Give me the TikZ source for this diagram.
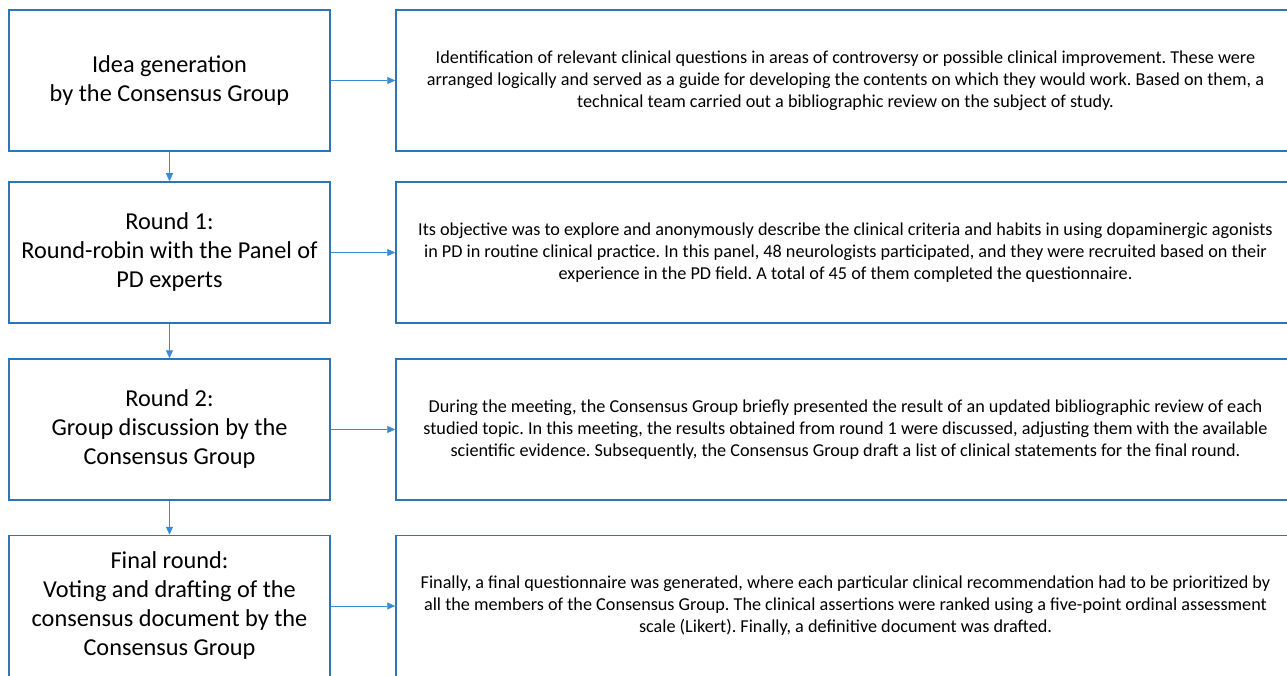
\documentclass[tikz,border=0pt]{standalone}
\usepackage{fontspec}
\setmainfont{Carlito}
\usetikzlibrary{arrows.meta}
\definecolor{boxblue}{RGB}{46,117,182}
\definecolor{arrowblue}{RGB}{58,140,210}
\frenchspacing

\begin{document}
\begin{tikzpicture}[
    x = 1pt, y = -1pt,
    stagebox/.style = {draw = boxblue, line width = 1.5pt, inner sep = 0pt,
        minimum width = 321pt, minimum height = 141pt, align = center,
        font = \fontsize{24.3}{29}\selectfont},
    notebox/.style = {draw = boxblue, line width = 1.5pt, inner sep = 0pt,
        minimum width = 899pt, minimum height = 141pt, align = center,
        font = \fontsize{18.2}{22}\selectfont},
    flow/.style = {draw = arrowblue, line width = 0.9pt,
        -{Triangle[length = 8pt, width = 7pt]}}]

\useasboundingbox (0,0) rectangle (1287,676);
\clip (0,0) rectangle (1287,676);

% left column
\node[stagebox] (idea) at (169.5,80.5) {Idea generation\\by the Consensus Group};
\node[stagebox] (round1) at (169.5,252.5) {Round 1:\\Round-robin with the Panel of\\PD experts};
\node[stagebox] (round2) at (169.5,429.5) {Round 2:\\Group discussion by the\\Consensus Group};
\node[stagebox] (final) at (169.5,606) {Final round:\\Voting and drafting of the\\consensus document by the\\Consensus Group};

% right column
\node[notebox] (ideatxt) at (845.5,80.5) {Identification of relevant clinical questions in areas of controversy or possible clinical improvement. These were\\arranged logically and served as a guide for developing the contents on which they would work. Based on them, a\\technical team carried out a bibliographic review on the subject of study.};
\node[notebox] (round1txt) at (845.5,252.5) {Its objective was to explore and anonymously describe the clinical criteria and habits in using dopaminergic agonists\\in PD in routine clinical practice. In this panel, 48 neurologists participated, and they were recruited based on their\\experience in the PD field. A total of 45 of them completed the questionnaire.};
\node[notebox] (round2txt) at (845.5,429.5) {During the meeting, the Consensus Group briefly presented the result of an updated bibliographic review of each\\studied topic. In this meeting, the results obtained from round 1 were discussed, adjusting them with the available\\scientific evidence. Subsequently, the Consensus Group draft a list of clinical statements for the final round.};
\node[notebox] (finaltxt) at (845.5,606) {Finally, a final questionnaire was generated, where each particular clinical recommendation had to be prioritized by\\all the members of the Consensus Group. The clinical assertions were ranked using a five-point ordinal assessment\\scale (Likert). Finally, a definitive document was drafted.};

% connectors
\draw[flow] (idea) -- (round1);
\draw[flow] (round1) -- (round2);
\draw[flow] (round2) -- (final);
\draw[flow] (idea) -- (ideatxt);
\draw[flow] (round1) -- (round1txt);
\draw[flow] (round2) -- (round2txt);
\draw[flow] (final) -- (finaltxt);
\end{tikzpicture}
\end{document}
